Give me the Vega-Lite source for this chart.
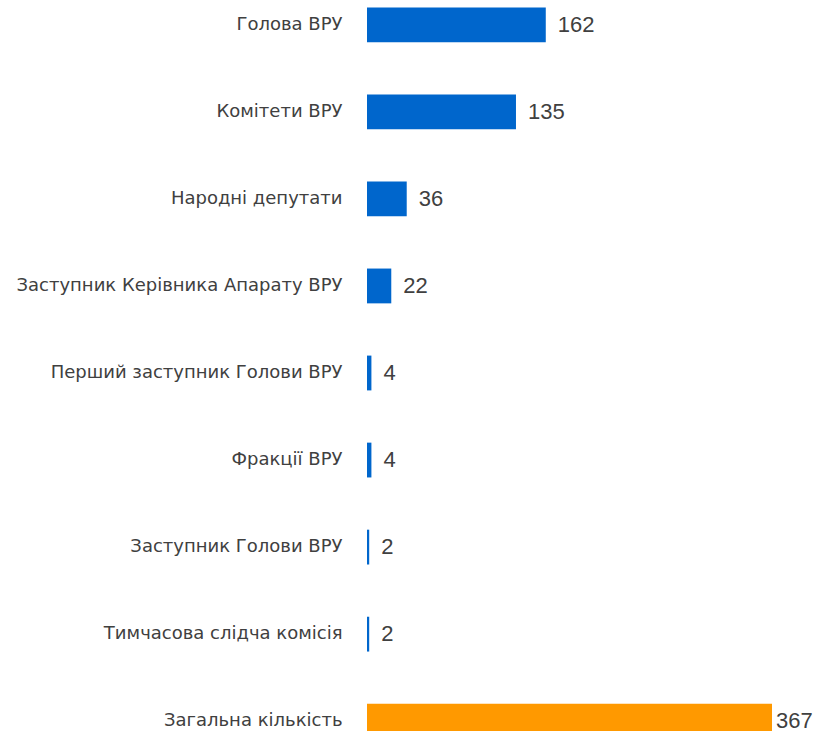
{
  "$schema": "https://vega.github.io/schema/vega-lite/v6.json",
  "width": 405,
  "height": 746,
  "autosize": {"type": "none"},
  "padding": {"left": 367, "top": 0, "right": 42, "bottom": 0},
  "config": {"view": {"stroke": null}},
  "data": {
    "values": [
      {"category": "Голова ВРУ", "value": 162, "group": "part"},
      {"category": "Комітети ВРУ", "value": 135, "group": "part"},
      {"category": "Народні депутати", "value": 36, "group": "part"},
      {"category": "Заступник Керівника Апарату ВРУ", "value": 22, "group": "part"},
      {"category": "Перший заступник Голови ВРУ", "value": 4, "group": "part"},
      {"category": "Фракції ВРУ", "value": 4, "group": "part"},
      {"category": "Заступник Голови ВРУ", "value": 2, "group": "part"},
      {"category": "Тимчасова слідча комісія", "value": 2, "group": "part"},
      {"category": "Загальна кількість", "value": 367, "group": "total"}
    ]
  },
  "encoding": {
    "y": {
      "field": "category",
      "type": "nominal",
      "sort": null,
      "scale": {"paddingInner": 0.6, "paddingOuter": 0.085},
      "axis": {
        "title": null,
        "domain": false,
        "ticks": false,
        "labelPadding": 25,
        "labelFont": "DejaVu Sans",
        "labelFontSize": 18,
        "labelColor": "#404040",
        "labelLimit": 400
      }
    },
    "x": {
      "field": "value",
      "type": "quantitative",
      "scale": {"domain": [0, 367]},
      "axis": null
    }
  },
  "layer": [
    {
      "mark": {"type": "bar"},
      "encoding": {
        "color": {
          "field": "group",
          "type": "nominal",
          "scale": {"domain": ["part", "total"], "range": ["#0066CC", "#FF9900"]},
          "legend": null
        }
      }
    },
    {
      "transform": [{"filter": "datum.group == 'part'"}],
      "mark": {"type": "text", "align": "left", "baseline": "middle", "dx": 12, "font": "Liberation Sans", "fontSize": 22, "color": "#404040"},
      "encoding": {"text": {"field": "value", "type": "quantitative"}}
    },
    {
      "transform": [{"filter": "datum.group == 'total'"}],
      "mark": {"type": "text", "align": "left", "baseline": "middle", "dx": 4, "font": "Liberation Sans", "fontSize": 22, "color": "#404040"},
      "encoding": {"text": {"field": "value", "type": "quantitative"}}
    }
  ]
}
